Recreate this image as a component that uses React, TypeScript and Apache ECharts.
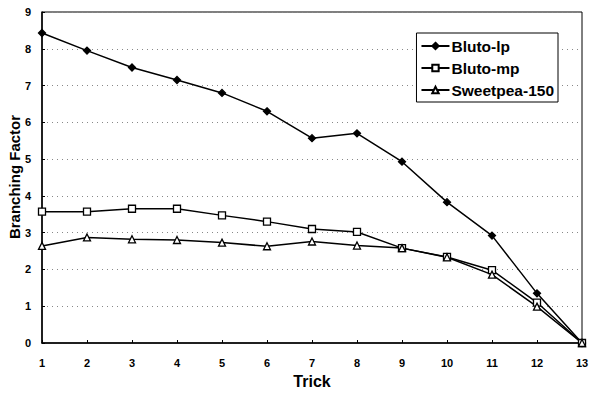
import React, { useEffect, useRef } from "react";
import * as echarts from "echarts";

const tricks = [1, 2, 3, 4, 5, 6, 7, 8, 9, 10, 11, 12, 13];
const blutoLp = [8.43, 7.95, 7.49, 7.15, 6.8, 6.3, 5.57, 5.7, 4.93, 3.83, 2.92, 1.35, 0];
const blutoMp = [3.57, 3.57, 3.65, 3.65, 3.47, 3.3, 3.1, 3.02, 2.58, 2.34, 1.98, 1.1, 0];
const sweetpea = [2.64, 2.87, 2.82, 2.8, 2.73, 2.63, 2.76, 2.65, 2.58, 2.33, 1.86, 0.99, 0];
const yTitle = "Branching Factor";

const font = "Liberation Sans, Arial, sans-serif";

export default function App() {
  const ref = useRef<HTMLDivElement>(null);
  useEffect(() => {
    const chart = echarts.init(ref.current!, null, { renderer: "svg" });
    const mk = (name: string, vals: number[], symbol: string, size: number, fill: string) => ({
      name,
      type: "line",
      data: tricks.map((t, i) => [t, vals[i]]),
      symbol,
      symbolSize: size,
      showAllSymbol: true,
      lineStyle: { color: "#000", width: 1.5 },
      itemStyle: { color: fill, borderColor: "#000", borderWidth: 1.3 },
      emphasis: { disabled: true },
    });
    chart.setOption({
      animation: false,
      backgroundColor: "#fff",
      grid: {
        left: 42,
        right: 7,
        top: 12,
        bottom: 50,
        outerBoundsMode: "none",
        containLabel: false,
        show: true,
        borderColor: "#000",
        borderWidth: 1,
        backgroundColor: "transparent",
      },
      graphic: [
        {
          type: "text",
          x: 14,
          y: 177,
          rotation: Math.PI / 2,
          style: {
            text: yTitle,
            font: `bold 15px ${font}`,
            fill: "#000",
            align: "center",
            verticalAlign: "middle",
          },
        },
      ],
      legend: {
        orient: "vertical",
        right: 31,
        top: 33,
        backgroundColor: "#fff",
        borderColor: "#000",
        borderWidth: 1,
        padding: [5, 4, 4, 4],
        itemGap: 6,
        itemWidth: 28,
        itemHeight: 8,
        textStyle: { fontFamily: font, fontWeight: "bold", fontSize: 15.5, color: "#000", padding: [0, 0, 0, -3] },
        data: ["Bluto-lp", "Bluto-mp", "Sweetpea-150"],
      },
      xAxis: {
        type: "value",
        min: 1,
        max: 13,
        interval: 1,
        name: "Trick",
        nameLocation: "middle",
        nameGap: 30,
        nameTextStyle: { fontFamily: font, fontWeight: "bold", fontSize: 16, color: "#000" },
        axisLine: { lineStyle: { color: "#000", width: 1.5 } },
        axisTick: { show: true, inside: true, length: 3, lineStyle: { color: "#000" } },
        axisLabel: { fontFamily: font, fontWeight: "bold", fontSize: 11, color: "#000", margin: 14 },
        splitLine: { show: false },
      },
      yAxis: {
        type: "value",
        min: 0,
        max: 9,
        interval: 1,
        axisLine: { show: true, lineStyle: { color: "#000", width: 1.5 } },
        axisTick: { show: true, inside: true, length: 3, lineStyle: { color: "#000" } },
        axisLabel: { fontFamily: font, fontWeight: "bold", fontSize: 11, color: "#000", margin: 11 },
        splitLine: { show: true, lineStyle: { color: "#888", type: [1, 4], width: 1 } },
      },
      series: [
        mk("Bluto-lp", blutoLp, "diamond", 7, "#000"),
        mk("Bluto-mp", blutoMp, "rect", 7, "#fff"),
        mk("Sweetpea-150", sweetpea, "triangle", 7, "#fff"),
      ],
    });
    return () => chart.dispose();
  }, []);
  return <div ref={ref} style={{ width: 589, height: 393, position: "absolute", left: 0, top: 0 }} />;
}
